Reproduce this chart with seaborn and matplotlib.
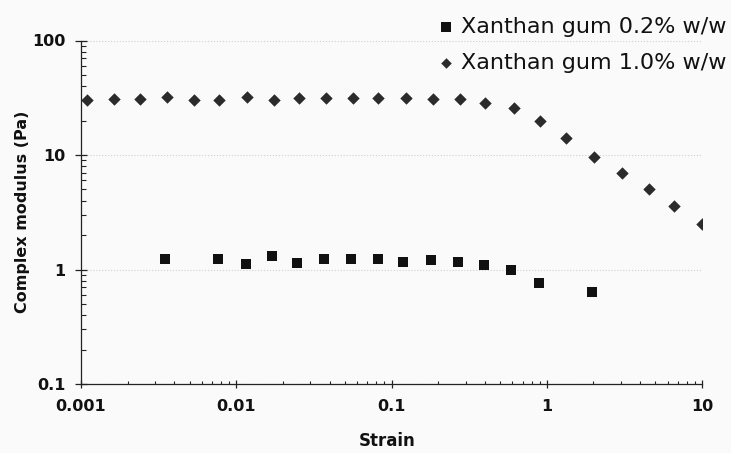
import numpy as np
import matplotlib
matplotlib.use("Agg")
import matplotlib.pyplot as plt
import seaborn as sns
from matplotlib.ticker import FixedLocator, FixedFormatter, LogLocator, NullFormatter

# ---- data ----
series_names = ["Xanthan gum 0.2% w/w", "Xanthan gum 1.0% w/w"]

strain_02 = [0.00349, 0.00762, 0.0115, 0.0171, 0.0247, 0.0365, 0.0548, 0.0824,
             0.119, 0.179, 0.268, 0.395, 0.590, 0.885, 1.96]
modulus_02 = [1.23, 1.23, 1.11, 1.31, 1.15, 1.23, 1.23, 1.23,
              1.17, 1.21, 1.16, 1.10, 0.99, 0.76, 0.64]

strain_10 = [0.00110, 0.00162, 0.00241, 0.00358, 0.00531, 0.00780, 0.0117, 0.0174,
             0.0252, 0.0380, 0.0569, 0.0824, 0.124, 0.185, 0.277, 0.401, 0.611,
             0.906, 1.33, 2.03, 3.05, 4.58, 6.64, 10.0]
modulus_10 = [30.2, 30.8, 30.7, 31.9, 30.2, 30.2, 31.9, 30.2, 31.3, 31.3, 31.3,
              31.3, 31.3, 30.6, 30.6, 28.7, 25.6, 19.8, 14.0, 9.66, 7.00, 5.01,
              3.59, 2.49]

x_ticks = [0.001, 0.01, 0.1, 1, 10]
x_ticklabels = ["0.001", "0.01", "0.1", "1", "10"]
y_ticks = [0.1, 1, 10, 100]
y_ticklabels = ["0.1", "1", "10", "100"]

sns.set_theme(style="white")
plt.rcParams["font.family"] = ["DejaVu Sans"]

bg = "#fafafa"
fig = plt.figure(figsize=(7.31, 4.53), dpi=100, facecolor=bg)
ax = fig.add_axes([81 / 731, 1 - 384 / 453, (702 - 81) / 731, (384 - 40.5) / 453])
ax.set_facecolor(bg)

sns.scatterplot(x=strain_02, y=modulus_02, marker="s", s=62, color="#111111",
                linewidth=0, label=series_names[0], ax=ax)
sns.scatterplot(x=strain_10, y=modulus_10, marker="D", s=40, color="#2b2b2b",
                linewidth=0, label=series_names[1], ax=ax)

ax.set_xscale("log")
ax.set_yscale("log")
ax.set_xlim(0.001, 10)
ax.set_ylim(0.1, 100)

ax.xaxis.set_major_locator(FixedLocator(x_ticks))
ax.xaxis.set_major_formatter(FixedFormatter(x_ticklabels))
ax.yaxis.set_major_locator(FixedLocator(y_ticks))
ax.yaxis.set_major_formatter(FixedFormatter(y_ticklabels))
ax.xaxis.set_minor_locator(LogLocator(base=10, subs=np.arange(2, 10)))
ax.yaxis.set_minor_locator(LogLocator(base=10, subs=np.arange(2, 10)))
ax.xaxis.set_minor_formatter(NullFormatter())
ax.yaxis.set_minor_formatter(NullFormatter())

for s in ["top", "right"]:
    ax.spines[s].set_visible(False)
for s in ["left", "bottom"]:
    ax.spines[s].set_color("#222222")
    ax.spines[s].set_linewidth(0.9)

ax.tick_params(axis="x", which="major", direction="inout", length=6, width=0.9,
               color="#222222", pad=8, labelsize=11.5, bottom=True)
ax.tick_params(axis="x", which="minor", direction="in", length=2.5, width=0.8,
               color="#222222", bottom=True)
ax.tick_params(axis="y", which="major", direction="inout", length=8, width=0.9,
               color="#222222", pad=7, labelsize=11.5, left=True)
ax.tick_params(axis="y", which="minor", direction="in", length=3.5, width=0.8,
               color="#222222", left=True)
for lab in ax.get_xticklabels() + ax.get_yticklabels():
    lab.set_fontweight("bold")
    lab.set_color("#111111")

ax.yaxis.grid(True, which="major", linestyle=":", color="#cfcfcf", linewidth=0.8)
ax.xaxis.grid(False)
ax.set_axisbelow(True)

ax.set_xlabel("Strain", fontsize=12, fontweight="bold", color="#111111")
ax.set_ylabel("Complex modulus (Pa)", fontsize=11.5, fontweight="bold", color="#111111")
ax.xaxis.set_label_coords(0.493, -0.14)
ax.yaxis.set_label_coords(-0.082, 0.5)

leg = ax.legend(
    loc="upper left", bbox_to_anchor=(435 / 731, 1 - 17 / 453),
    bbox_transform=fig.transFigure, frameon=False,
    fontsize=16, handlelength=1.0, handletextpad=0.15, labelspacing=0.72,
    borderpad=0, borderaxespad=0, markerscale=0.85,
)
for t in leg.get_texts():
    t.set_color("#111111")

fig.savefig("out.png", dpi=100, facecolor=bg)
